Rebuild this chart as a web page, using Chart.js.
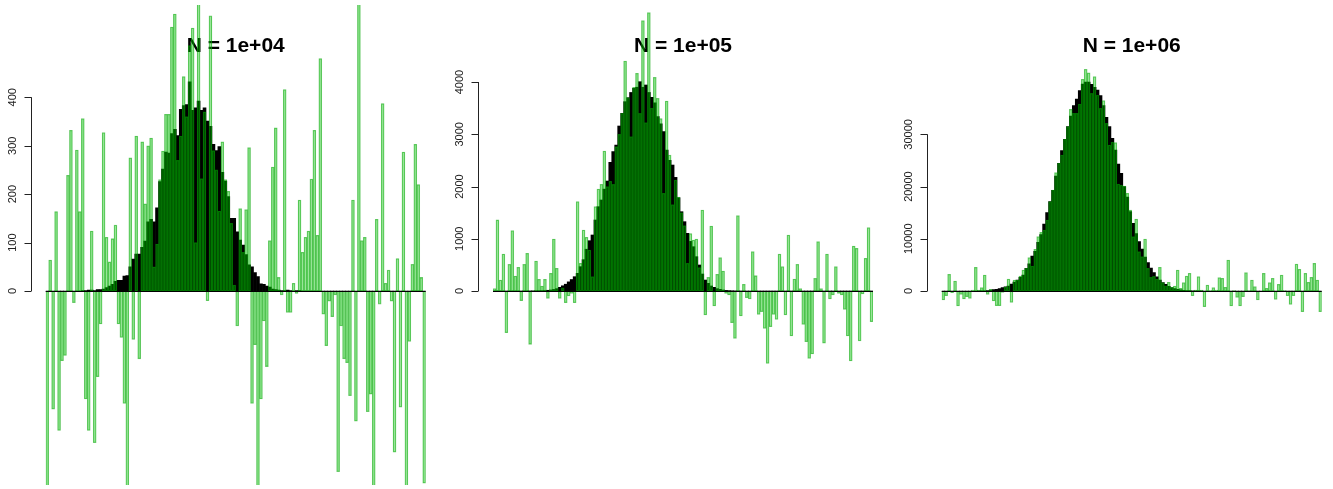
<!DOCTYPE html>
<html>
<head>
<meta charset="utf-8">
<script src="https://cdn.jsdelivr.net/npm/chart.js@4.4.1/dist/chart.umd.min.js"></script>
<style>
html, body { margin: 0; padding: 0; background: #fff; }
#wrap { position: relative; width: 1333px; height: 489px; }
canvas { position: absolute; top: 0; }
</style>
</head>
<body>
<div id="wrap">
  <canvas id="c1" width="444" height="489" style="left:0px"></canvas>
  <canvas id="c2" width="444" height="489" style="left:444px"></canvas>
  <canvas id="c3" width="445" height="489" style="left:888px"></canvas>
</div>
<script>
// histogram bins (128 per panel)
const bins = Array.from({ length: 128 }, (_, i) => String(i + 1));

const titles = ['N = 1e+04', 'N = 1e+05', 'N = 1e+06'];

const ticks1 = [0, 100, 200, 300, 400];
const ticks2 = [0, 1000, 2000, 3000, 4000];
const ticks3 = [0, 10000, 20000, 30000];

// true counts (black)
const counts1 = [
  0, 0, 0, 0, 0, 0, 0, 0, 0, 0,
  0, 0, 1, 1, 2, 2, 1, 3, 3, 4,
  7, 10, 14, 20, 22, 22, 31, 32, 50, 66,
  76, 76, 90, 103, 143, 148, 143, 172, 226, 252,
  287, 285, 325, 334, 321, 375, 383, 385, 432, 373,
  378, 392, 373, 378, 351, 340, 303, 290, 298, 245,
  227, 195, 150, 150, 122, 105, 95, 75, 54, 50,
  38, 30, 15, 14, 10, 8, 4, 3, 2, 1,
  1, 2, 1, 0, 1, 1, 0, 0, 0, 0,
  0, 0, 0, 0, 0, 0, 0, 0, 0, 0,
  0, 0, 0, 0, 0, 0, 0, 0, 0, 0,
  0, 0, 0, 0, 0, 0, 0, 0, 0, 0,
  0, 0, 0, 0, 0, 0, 0, 0
];
// noisy counts (green)
const noisy1 = [
  -410, 64, -244, 164, -288, -144, -133, 239, 332, -24,
  291, 164, 356, -223, -288, 124, -313, -177, -68, 327,
  111, 60, 108, 136, -68, -96, -232, -410, 275, -100,
  320, -140, 308, 180, 300, 316, 50, 97, 230, 289,
  365, 365, 545, 572, 270, 320, 443, 360, 507, 543,
  100, 600, 232, 370, -20, 568, 290, 250, 165, 308,
  230, 206, 140, 12, -72, 170, 80, 168, 296, -232,
  -111, -410, -223, -62, -156, 104, 256, 337, 28, -8,
  416, -44, -44, 16, -5, 188, 80, 111, 124, 231,
  332, 115, 480, -48, -113, -21, -53, -8, -373, -72,
  -140, -148, -216, 188, -269, 600, 104, 111, -249, -213,
  -410, 148, -27, 387, 16, 43, -21, -333, 67, -240,
  287, -410, -104, 55, 303, 220, 28, -397
];

const counts2 = [
  0, 0, 0, 0, 0, 0, 0, 0, 0, 0,
  1, 2, 2, 3, 5, 6, 8, 10, 14, 20,
  30, 45, 70, 100, 130, 175, 220, 274, 338, 466,
  600, 800, 963, 1072, 1359, 1614, 1742, 1950, 2105, 2463,
  2667, 2794, 3158, 3400, 3624, 3700, 3800, 3879, 3900, 4006,
  3900, 3943, 3800, 3707, 3600, 3337, 3200, 3050, 2698, 2500,
  2411, 2175, 1786, 1518, 1327, 1104, 950, 848, 657, 498,
  325, 210, 147, 96, 70, 45, 32, 19, 12, 8,
  5, 3, 2, 1, 0, 0, 0, 0, 0, 0,
  0, 0, 0, 0, 0, 0, 0, 0, 0, 0,
  0, 0, 0, 0, 0, 0, 0, 0, 0, 0,
  0, 0, 0, 0, 0, 0, 0, 0, 0, 0,
  0, 0, 0, 0, 0, 0, 0, 0
];
const noisy2 = [
  45, 1360, 210, 708, -797, 510, 1155, 287, 453, -185,
  510, 721, -1020, 5, 574, 223, 96, 223, -140, 338,
  995, 434, -140, 60, -223, -96, -45, -223, 1710, 530,
  1167, 1027, 785, 274, 1614, 1952, 2041, 2680, 2000, 2100,
  2041, 2762, 3000, 3400, 4402, 3700, 2954, 3900, 4166, 3400,
  5174, 3222, 5327, 3500, 4089, 3687, 3300, 1870, 3636, 2600,
  1652, 2124, 1800, 1500, 1250, 530, 1100, 976, 995, 450,
  1550, -459, 260, 1244, -287, 319, 638, 383, -45, -77,
  -606, -906, 1442, -478, 128, -128, -153, 753, 293, -447,
  -395, -714, -1384, -683, -446, -542, 708, 466, -459, 1072,
  -861, 230, 510, 45, -638, -970, -1289, -1206, 242, 944,
  45, -1000, 708, -153, -77, 466, -45, -77, -351, -861,
  -1340, 861, 817, -957, -57, 625, 1212, -587
];

const counts3 = [
  0, 0, 0, 0, 0, 0, 0, 0, 0, 0,
  0, 5, 10, 20, 40, 100, 190, 250, 320, 450,
  640, 800, 957, 1340, 1700, 2106, 2600, 3064, 4340, 5200,
  6700, 7600, 9300, 10800, 12830, 15000, 17106, 19300, 22000, 24447,
  26872, 29042, 31468, 33500, 35489, 36765, 38361, 39638, 40000, 40000,
  39575, 39000, 38489, 37404, 35500, 33255, 31468, 29234, 27000, 24319,
  22532, 20000, 18000, 15191, 12958, 11000, 9447, 8042, 6500, 5425,
  4400, 3510, 2700, 2100, 1600, 1277, 900, 650, 450, 320,
  220, 150, 100, 65, 40, 25, 15, 10, 5, 3,
  0, 0, 0, 0, 0, 0, 0, 0, 0, 0,
  0, 0, 0, 0, 0, 0, 0, 0, 0, 0,
  0, 0, 0, 0, 0, 0, 0, 0, 0, 0,
  0, 0, 0, 0, 0, 0, 0, 0
];
const noisy3 = [
  -1723, -894, 3191, -319, 1915, -2872, -638, -1532, -1085, -1404,
  191, 4532, 191, 638, 3064, -638, 300, -1915, -2808, -2808,
  -255, 800, 2298, -2170, 2100, 2100, 2870, 4021, 4340, 6383,
  4787, 7979, 10404, 11234, 11681, 13595, 17106, 19340, 22660, 24447,
  26042, 29042, 31468, 34787, 34021, 34021, 35808, 40532, 42445, 41800,
  37850, 41042, 37500, 35000, 36446, 32106, 27957, 28500, 28404, 20500,
  20298, 20106, 18702, 15500, 10404, 13787, 7532, 6574, 9957, 4340,
  2617, 2800, 2298, 4532, 1600, 980, 1660, 702, 957, 4021,
  510, 1596, 2872, 3383, -894, 191, 2745, 191, -3000, 1149,
  64, 638, 191, 2553, 2425, 702, 5936, -2872, 64, -1213,
  -2872, -1085, 3510, 64, 2106, 830, -1723, 0, 3383, 510,
  1596, 2425, -1596, 1277, 3064, 64, -894, -2553, -894, 5170,
  4149, -3957, 3383, 1660, 2617, 5298, 2106, -3957
];

// R-style left axis, zero line and title
const rStyle = {
  id: 'rStyle',
  beforeDatasetsDraw(chart, args, opts) {
    const { ctx, chartArea } = chart;
    ctx.save();
    ctx.fillStyle = '#000';
    ctx.font = 'bold 21px "Liberation Sans", Arial, sans-serif';
    ctx.textAlign = 'center';
    ctx.textBaseline = 'alphabetic';
    ctx.fillText(opts.title, (chartArea.left + chartArea.right) / 2, 52);
    ctx.restore();
  },
  afterDatasetsDraw(chart, args, opts) {
    const { ctx, chartArea } = chart;
    const y = chart.scales.y;
    ctx.save();
    // zero line
    const z = Math.round(y.getPixelForValue(0)) + 0.5;
    ctx.strokeStyle = '#000';
    ctx.lineWidth = 1;
    ctx.beginPath();
    ctx.moveTo(chartArea.left, z);
    ctx.lineTo(chartArea.right, z);
    ctx.stroke();
    // axis
    const ax = Math.round(chartArea.left - 15) + 0.5;
    const t = opts.ticks;
    ctx.strokeStyle = '#222';
    ctx.beginPath();
    ctx.moveTo(ax, y.getPixelForValue(t[0]));
    ctx.lineTo(ax, y.getPixelForValue(t[t.length - 1]));
    t.forEach(v => {
      const py = Math.round(y.getPixelForValue(v)) + 0.5;
      ctx.moveTo(ax - 7, py);
      ctx.lineTo(ax, py);
    });
    ctx.stroke();
    ctx.fillStyle = '#222';
    ctx.font = '11px "Liberation Sans", Arial, sans-serif';
    ctx.textAlign = 'center';
    ctx.textBaseline = 'middle';
    t.forEach(v => {
      ctx.save();
      ctx.translate(ax - 19, y.getPixelForValue(v));
      ctx.rotate(-Math.PI / 2);
      ctx.fillText(String(v), 0, 0);
      ctx.restore();
    });
    ctx.restore();
  }
};

function panel(id, counts, noisy, ticks, title, yMin, yMax, padL, padR) {
  return new Chart(document.getElementById(id), {
    type: 'bar',
    plugins: [rStyle],
    data: {
      labels: bins,
      datasets: [
        {
          data: noisy,
          order: 0,
          grouped: false,
          clip: 0,
          backgroundColor: 'rgba(0, 190, 0, 0.4)',
          borderColor: 'rgba(0, 160, 0, 0.55)',
          borderWidth: 0.6,
          borderSkipped: false,
          barPercentage: 1,
          categoryPercentage: 1
        },
        {
          data: counts,
          order: 1,
          grouped: false,
          clip: 0,
          backgroundColor: '#000',
          borderWidth: 0,
          barPercentage: 1,
          categoryPercentage: 1
        }
      ]
    },
    options: {
      responsive: false,
      animation: false,
      layout: { padding: { left: padL, right: padR, top: 5, bottom: 4 } },
      scales: {
        x: { display: false },
        y: { display: false, min: yMin, max: yMax }
      },
      plugins: {
        legend: { display: false },
        tooltip: { enabled: false },
        rStyle: { ticks: ticks, title: title }
      }
    }
  });
}

panel('c1', counts1, noisy1, ticks1, titles[0], -400.6, 590.6, 45.7, 18.3);
panel('c2', counts2, noisy2, ticks2, titles[1], -3713, 5474, 49, 15);
panel('c3', counts3, noisy3, ticks3, titles[2], -37150, 54770, 53.7, 11.3);
</script>
</body>
</html>
